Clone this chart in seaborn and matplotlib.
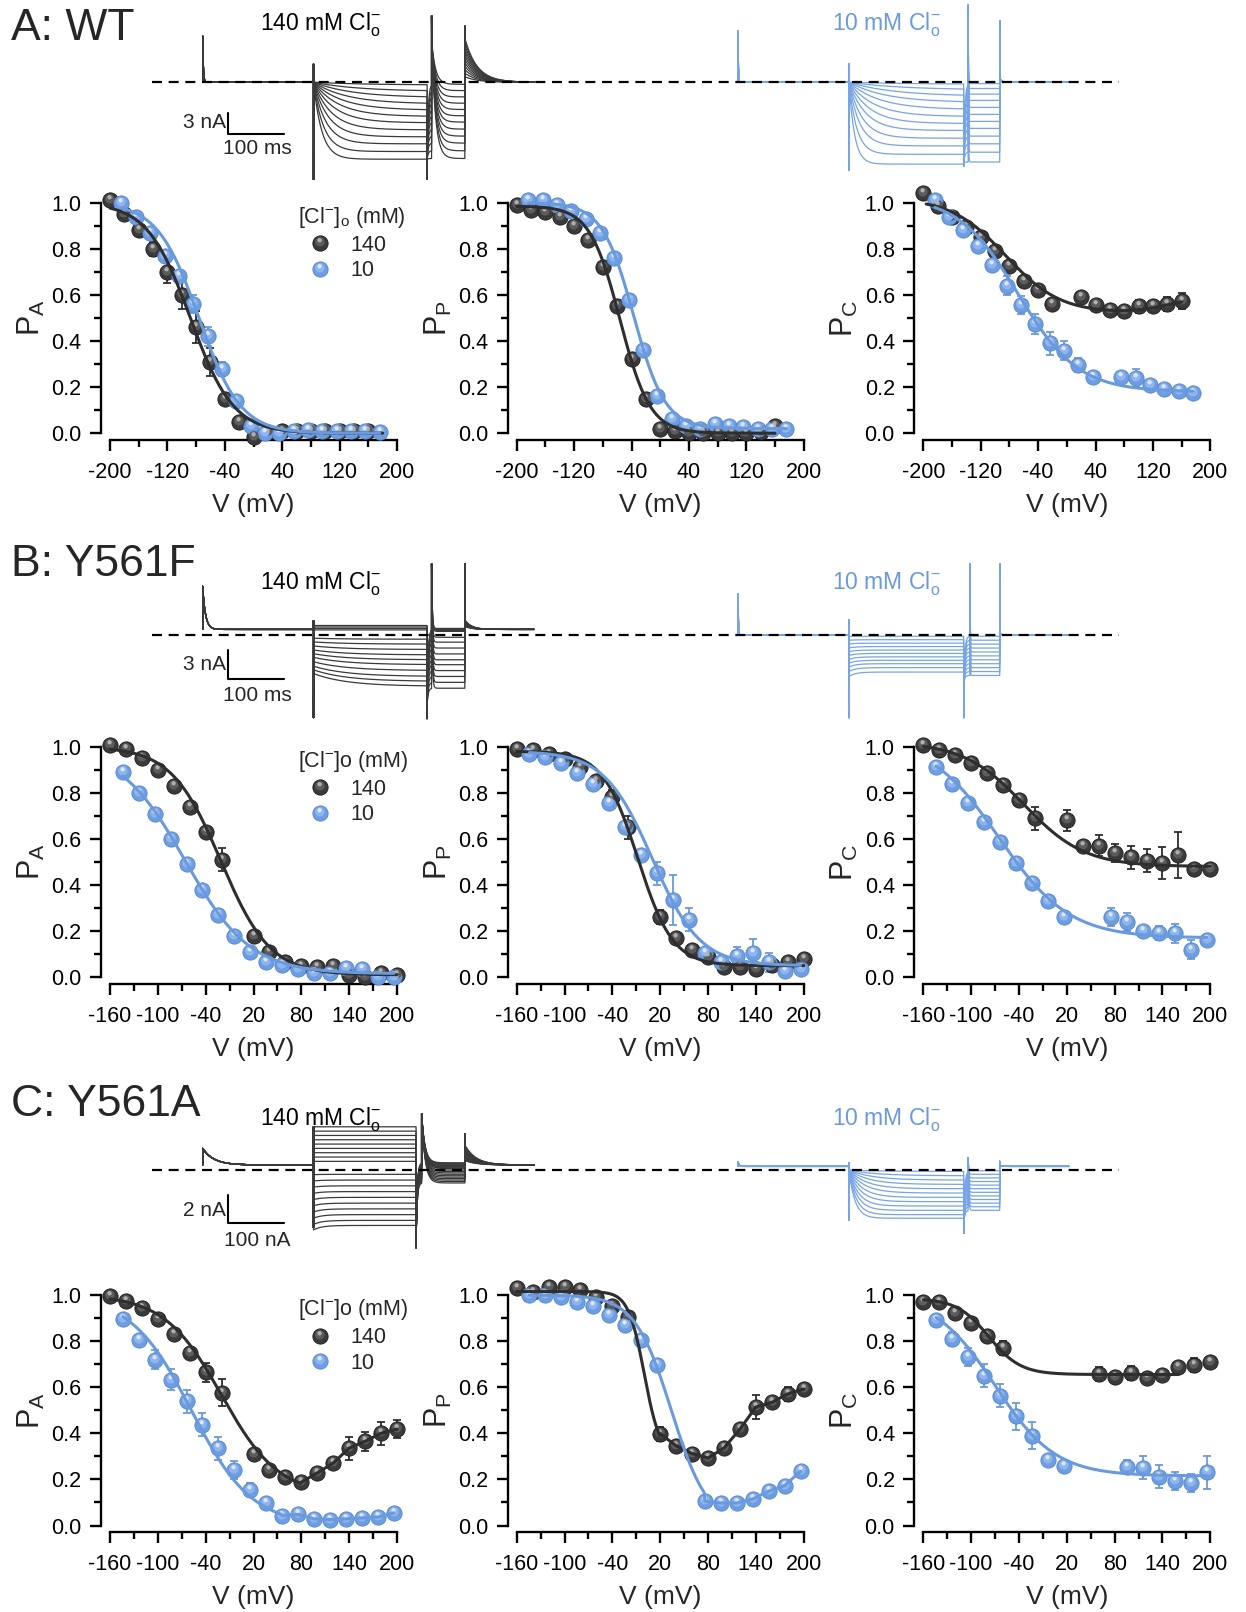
import numpy as np
import matplotlib
matplotlib.use("Agg")
import matplotlib.pyplot as plt
import seaborn as sns
from matplotlib.path import Path
from matplotlib.lines import Line2D
from matplotlib.legend_handler import HandlerTuple
from matplotlib.ticker import FixedLocator, FormatStrFormatter

sns.set_theme(style="ticks")
plt.rcParams["font.family"] = ["Liberation Sans", "DejaVu Sans"]
plt.rcParams["mathtext.fontset"] = "custom"
plt.rcParams["mathtext.rm"] = "Liberation Sans"
plt.rcParams["mathtext.it"] = "Liberation Sans:italic"
plt.rcParams["axes.unicode_minus"] = False

# ---------------- open probability data (mean, SEM) ----------------
# A: WT
a_v140 = [-200, -180, -160, -140, -120, -100, -80, -60, -40, -20, 0, 20, 40, 60, 80, 100, 120, 140, 160]
a_v10 = [-184, -164, -144, -124, -104, -84, -64, -44, -24, -4, 16, 36, 56, 76, 96, 116, 136, 156, 176]
a_pa_140 = [1.01, 0.95, 0.88, 0.80, 0.70, 0.60, 0.46, 0.31, 0.15, 0.05, -0.015, 0.005, 0.01, 0.01, 0.01, 0.01, 0.01, 0.01, 0.01]
a_pa_140_err = [0.01, 0.01, 0.01, 0.03, 0.05, 0.06, 0.07, 0.06, 0.02, 0.01, 0.01, 0.01, 0.02, 0.01, 0.01, 0.01, 0.01, 0.01, 0.02]
a_pa_10 = [1.0, 0.94, 0.87, 0.77, 0.68, 0.56, 0.42, 0.28, 0.14, 0.03, 0.0, 0.0, 0.01, 0.015, 0.01, 0.01, 0.01, 0.01, 0.005]
a_pa_10_err = [0.01, 0.01, 0.02, 0.02, 0.02, 0.04, 0.04, 0.03, 0.02, 0.01, 0.01, 0.01, 0.01, 0.01, 0.01, 0.01, 0.01, 0.01, 0.01]
a_pp_140 = [0.99, 0.97, 0.96, 0.94, 0.90, 0.84, 0.72, 0.55, 0.32, 0.15, 0.02, 0.01, 0.0, 0.0, 0.0, 0.0, 0.0, 0.005, 0.03]
a_pp_10 = [1.01, 1.01, 0.99, 0.965, 0.93, 0.87, 0.76, 0.58, 0.36, 0.16, 0.06, 0.03, 0.02, 0.04, 0.03, 0.026, 0.02, 0.02, 0.02]
a_pp_err = [0.01] * 19
a_pc_v140 = [-200, -180, -160, -140, -120, -100, -80, -60, -40, -20, 20, 40, 60, 80, 100, 120, 140, 160]
a_pc_140 = [1.04, 0.985, 0.94, 0.895, 0.85, 0.79, 0.725, 0.66, 0.62, 0.56, 0.59, 0.556, 0.535, 0.53, 0.55, 0.55, 0.56, 0.575]
a_pc_140_err = [0.01, 0.01, 0.01, 0.01, 0.01, 0.01, 0.01, 0.01, 0.01, 0.02, 0.01, 0.01, 0.01, 0.01, 0.03, 0.02, 0.03, 0.035]
a_pc_v10 = [-184, -164, -144, -124, -104, -84, -64, -44, -24, -4, 16, 36, 76, 96, 116, 136, 156, 176]
a_pc_10 = [1.01, 0.94, 0.88, 0.81, 0.73, 0.64, 0.556, 0.474, 0.39, 0.358, 0.296, 0.245, 0.245, 0.24, 0.21, 0.19, 0.185, 0.176]
a_pc_10_err = [0.01, 0.01, 0.01, 0.02, 0.02, 0.04, 0.04, 0.045, 0.05, 0.04, 0.03, 0.01, 0.01, 0.04, 0.01, 0.01, 0.01, 0.01]

# B: Y561F
b_v140 = [-160, -140, -120, -100, -80, -60, -40, -20, 20, 40, 60, 80, 100, 120, 140, 160, 180, 200]
b_v10 = [-144, -124, -104, -84, -64, -44, -24, -4, 16, 36, 56, 76, 96, 116, 136, 156, 176, 196]
b_pa_140 = [1.007, 0.99, 0.95, 0.90, 0.83, 0.74, 0.63, 0.51, 0.18, 0.11, 0.064, 0.05, 0.046, 0.05, 0.01, 0.003, 0.02, 0.01]
b_pa_140_err = [0.01, 0.01, 0.01, 0.01, 0.01, 0.01, 0.02, 0.05, 0.01, 0.01, 0.01, 0.01, 0.01, 0.01, 0.01, 0.01, 0.01, 0.01]
b_pa_10 = [0.89, 0.80, 0.71, 0.60, 0.49, 0.38, 0.27, 0.18, 0.11, 0.064, 0.053, 0.035, 0.02, 0.02, 0.04, 0.035, 0.0, 0.0]
b_pa_10_err = [0.01] * 18
b_pp_140 = [0.99, 0.986, 0.97, 0.945, 0.91, 0.85, 0.78, 0.65, 0.26, 0.17, 0.12, 0.087, 0.043, 0.046, 0.035, 0.053, 0.064, 0.078]
b_pp_140_err = [0.01, 0.01, 0.01, 0.01, 0.01, 0.01, 0.03, 0.05, 0.03, 0.01, 0.01, 0.01, 0.01, 0.01, 0.01, 0.01, 0.01, 0.01]
b_pp_10 = [0.97, 0.957, 0.928, 0.887, 0.838, 0.754, 0.65, 0.53, 0.45, 0.335, 0.25, 0.104, 0.068, 0.09, 0.107, 0.064, 0.025, 0.035]
b_pp_10_err = [0.01, 0.01, 0.01, 0.01, 0.01, 0.01, 0.02, 0.02, 0.05, 0.11, 0.05, 0.02, 0.01, 0.04, 0.06, 0.04, 0.01, 0.01]
b_pc_140 = [1.007, 0.986, 0.964, 0.928, 0.884, 0.834, 0.77, 0.69, 0.68, 0.57, 0.57, 0.54, 0.52, 0.506, 0.494, 0.53, 0.468, 0.47]
b_pc_140_err = [0.01, 0.01, 0.01, 0.01, 0.01, 0.01, 0.01, 0.05, 0.045, 0.01, 0.045, 0.04, 0.05, 0.05, 0.07, 0.1, 0.01, 0.01]
b_pc_v10 = [-144, -124, -104, -84, -64, -44, -24, -4, 16, 76, 96, 116, 136, 156, 176, 196]
b_pc_10 = [0.913, 0.838, 0.757, 0.675, 0.588, 0.497, 0.41, 0.33, 0.26, 0.26, 0.24, 0.2, 0.19, 0.19, 0.12, 0.16]
b_pc_10_err = [0.01, 0.01, 0.01, 0.01, 0.01, 0.01, 0.01, 0.01, 0.01, 0.04, 0.04, 0.01, 0.03, 0.04, 0.04, 0.01]

# C: Y561A
c_v140 = b_v140
c_v10 = b_v10
c_pa_140 = [0.996, 0.975, 0.942, 0.895, 0.83, 0.75, 0.664, 0.577, 0.312, 0.242, 0.21, 0.188, 0.228, 0.271, 0.336, 0.365, 0.40, 0.418]
c_pa_140_err = [0.01, 0.01, 0.01, 0.01, 0.01, 0.01, 0.04, 0.06, 0.01, 0.01, 0.01, 0.01, 0.01, 0.01, 0.05, 0.04, 0.05, 0.04]
c_pa_10 = [0.894, 0.805, 0.72, 0.632, 0.538, 0.437, 0.336, 0.24, 0.156, 0.098, 0.043, 0.048, 0.029, 0.026, 0.029, 0.033, 0.037, 0.055]
c_pa_10_err = [0.01, 0.01, 0.04, 0.045, 0.05, 0.05, 0.05, 0.04, 0.03, 0.01, 0.01, 0.01, 0.01, 0.01, 0.01, 0.01, 0.01, 0.01]
c_pp_140 = [1.03, 1.014, 1.033, 1.033, 1.02, 0.99, 0.952, 0.906, 0.398, 0.346, 0.312, 0.293, 0.336, 0.418, 0.514, 0.534, 0.571, 0.592]
c_pp_140_err = [0.01, 0.01, 0.01, 0.01, 0.01, 0.01, 0.01, 0.01, 0.03, 0.01, 0.01, 0.01, 0.01, 0.01, 0.05, 0.01, 0.03, 0.01]
c_pp_v10 = [-144, -124, -104, -84, -64, -44, -24, -4, 16, 76, 96, 116, 136, 156, 176, 196]
c_pp_10 = [1.0, 1.0, 0.99, 0.97, 0.952, 0.913, 0.87, 0.805, 0.697, 0.105, 0.098, 0.098, 0.115, 0.149, 0.173, 0.235]
c_pp_10_err = [0.01] * 15 + [0.02]
c_pc_v140 = [-160, -140, -120, -100, -80, -60, 60, 80, 100, 120, 140, 160, 180, 200]
c_pc_140 = [0.971, 0.971, 0.924, 0.88, 0.823, 0.77, 0.658, 0.646, 0.66, 0.64, 0.654, 0.687, 0.697, 0.711]
c_pc_140_err = [0.01, 0.01, 0.01, 0.01, 0.01, 0.03, 0.03, 0.01, 0.03, 0.01, 0.01, 0.01, 0.03, 0.01]
c_pc_v10 = [-144, -124, -104, -84, -64, -44, -24, -4, 16, 96, 116, 136, 156, 176, 196]
c_pc_10 = [0.892, 0.808, 0.73, 0.65, 0.563, 0.473, 0.39, 0.286, 0.258, 0.255, 0.25, 0.211, 0.192, 0.185, 0.23]
c_pc_10_err = [0.01, 0.03, 0.04, 0.05, 0.05, 0.06, 0.06, 0.01, 0.01, 0.03, 0.05, 0.05, 0.04, 0.04, 0.07]

# Boltzmann fit parameters: [v_start, v_end, p_max, p_min, v_half, slope, rise, rise_vh, rise_k, v_break]
a_pa_140_fit = [-200, 180, 1.0, 0.0, -88, 30, 0, 0, 1, None]
a_pa_10_fit = [-184, 176, 1.0, 0.0, -76, 29, 0, 0, 1, None]
a_pp_140_fit = [-200, 160, 0.985, 0.0, -56, 21, 0, 0, 1, None]
a_pp_10_fit = [-184, 176, 1.0, 0.02, -37, 22, 0, 0, 1, None]
a_pc_140_fit = [-196, 160, 1.02, 0.52, -85, 38, 0.07, 140, 25, None]
a_pc_10_fit = [-184, 176, 1.03, 0.18, -68, 42, 0, 0, 1, None]
b_pa_140_fit = [-160, 200, 1.0, 0.01, -21, 31, 0, 0, 1, None]
b_pa_10_fit = [-144, 196, 1.0, 0.015, -66, 41, 0, 0, 1, None]
b_pp_140_fit = [-160, 200, 0.98, 0.05, -8, 22, 0, 0, 1, None]
b_pp_10_fit = [-144, 196, 0.98, 0.05, 10, 30, 0, 0, 1, None]
b_pc_140_fit = [-160, 200, 1.02, 0.48, -34, 38, 0, 0, 1, None]
b_pc_10_fit = [-144, 196, 1.04, 0.17, -65, 44, 0, 0, 1, None]
c_pa_140_fit = [-160, 200, 1.0, 0.13, -20, 36, 0, 0, 1, 80]
c_pa_10_fit = [-144, 196, 1.0, 0.0, -58, 38, 0, 0, 1, 56]
c_pp_140_fit = [-160, 200, 1.015, 0.3, 0, 10, 0, 0, 1, 20]
c_pp_10_fit = [-144, 196, 1.0, 0.0, 34, 23, 0, 0, 1, 76]
c_pc_140_fit = [-160, 160, 0.985, 0.655, -78, 20, 0, 0, 1, None]
c_pc_10_fit = [-144, 196, 1.0, 0.215, -70, 38, 0, 0, 1, None]

# ---------------- current traces (nA, per sweep) ----------------
a140_ss = [-0.4, -1.3, -2.2, -3.1, -4.0, -4.9, -5.8, -6.8, -7.8, -8.8, -9.9, -11.0]
a140_tau = [90, 80, 70, 60, 52, 45, 38, 32, 27, 22, 18, 15]
a140_tail = [-0.3, -1.2, -2.1, -3.0, -3.9, -4.8, -5.7, -6.7, -7.7, -8.7, -9.8, -10.9]
a140_post = [0.8, 1.3, 1.8, 2.3, 2.8, 3.3, 3.8, 4.3, 4.8, 5.3, 5.8, 6.3]
a10_ss = [-0.3, -1.1, -2.0, -2.9, -3.9, -4.9, -5.9, -6.9, -8.0, -9.1, -10.3, -11.7]
a10_tau = [110, 95, 80, 66, 55, 45, 37, 30, 24, 19, 14, 10]
a10_tail = [-0.2, -0.9, -1.7, -2.6, -3.6, -4.6, -5.6, -6.6, -7.7, -8.8, -10.0, -11.4]
a10_post = [0.2, 0.25, 0.3, 0.35, 0.4, 0.45, 0.5, 0.55, 0.6, 0.65, 0.7, 0.75]
b140_ss = [1.0, 0.85, 0.7, 0.55, -0.4, -0.9, -1.45, -2.0, -2.5, -3.0, -3.6, -4.2, -4.7, -5.2]
b140_tail = [0.7, 0.6, 0.5, 0.4, -0.2, -0.7, -1.3, -1.9, -2.5, -3.0, -3.6, -4.2, -4.8, -5.4]
b140_post = [0.3, 0.35, 0.4, 0.45, 0.5, 0.55, 0.6, 0.65, 0.7, 0.75, 0.8, 0.85, 0.9, 1.0]
b10_ss = [-0.1, -0.45, -0.8, -1.15, -1.5, -1.85, -2.2, -2.55, -2.9, -3.3, -3.75]
b10_tail = [-0.1, -0.5, -0.9, -1.3, -1.7, -2.1, -2.5, -2.9, -3.3, -3.7, -4.1]
b10_post = [0.1, 0.12, 0.14, 0.16, 0.18, 0.2, 0.22, 0.24, 0.26, 0.28, 0.3]
c140_ss = [3.0, 2.7, 2.4, 2.1, 1.8, 1.5, 1.2, 0.9, 0.6, -0.3, -0.7, -1.1, -1.5, -1.9, -2.3, -2.7, -3.1, -3.5, -3.85]
c140_tail = [0.5, 0.45, 0.4, 0.35, 0.3, 0.25, 0.2, 0.15, 0.1, 0.0, -0.1, -0.2, -0.3, -0.4, -0.5, -0.6, -0.7, -0.8, -0.9]
c140_post = [0.3, 0.35, 0.4, 0.45, 0.5, 0.55, 0.6, 0.65, 0.7, 0.75, 0.8, 0.85, 0.9, 0.95, 1.0, 1.1, 1.2, 1.3, 1.4]
c10_ss = [-0.1, -0.4, -0.7, -1.0, -1.3, -1.6, -1.9, -2.2, -2.5, -2.8, -3.1, -3.35]
c10_tau = [60, 50, 42, 36, 31, 27, 23, 20, 17, 15, 13, 11]
c10_tail = [-0.05, -0.3, -0.55, -0.8, -1.05, -1.3, -1.55, -1.8, -2.05, -2.3, -2.55, -2.8]
c10_post = [0.05] * 12

BLACK = dict(base="#3a3a3a", edge="#1c1c1c", hl1="#5c5c5c", hl2="#b0b0b0", line="#2e2e2e", trace="#3a3a3a")
BLUE = dict(base="#6d9de2", edge="#5686cc", hl1="#8fb5ec", hl2="#dce8f9", line="#6a9ade", trace="#76a4e6")


def rec(t0, hold, pre_spike, pre_tau, test_dur, on, init, ss, tau, gap, off1, dip, off2, peak, tail_tau,
        tail, tail_dur, post_caps, post, post_tau):
    return dict(t0=t0, hold=hold, pre_spike=pre_spike, pre_tau=pre_tau, test_dur=test_dur, on=on, init=init,
                ss=ss, tau=np.broadcast_to(tau, len(ss)), gap=gap, off1=off1, dip=dip, off2=off2, peak=peak,
                tail_tau=tail_tau, tail=tail, tail_dur=tail_dur, post_caps=post_caps, post=post, post_tau=post_tau)


traces = [
    (rec(95, 0.0, 6.6, 1.2, 205, [2.6, -14.0], 0.0, a140_ss, a140_tau, 8, [-14.0], -11.0, [9.5], 6.0, 7,
         a140_tail, 68, [8.0], a140_post, 22),
     rec(1061, 0.0, 7.3, 0.5, 207, [2.6, -12.6], 0.0, a10_ss, a10_tau, 8, [-12.0], -11.5, [11.0], 11.0, 0.5,
         a10_tail, 65, [8.8], a10_post, 3)),
    (rec(95, 0.6, 5.0, 5, 205, [1.5, -8.4], 0.75, b140_ss, 60, 8, [-8.5], -7.0, [7.3], 7.3, 1.2,
         b140_tail, 68, [7.3], b140_post, 12),
     rec(1061, 0.05, 4.2, 0.6, 207, [1.6, -8.4], 1.12, b10_ss, 12, 11, [-8.4], -5.0, [7.3], 7.3, 0.5,
         b10_tail, 65, [7.3], b10_post, 2)),
    (rec(95, 0.35, 1.5, 20, 185, [3.0, -4.0], 1.08, c140_ss, 15, 10, [-5.4], -5.0, [3.9], 3.9, 6,
         c140_tail, 88, [2.5], c140_post, 20),
     rec(1061, 0.25, 0.55, 2, 207, [0.5, -3.5], 0.0, c10_ss, c10_tau, 8, [-4.4], -3.8, [0.85], 0.85, 1,
         c10_tail, 65, [0.6], c10_post, 3)),
]


def seg(t_start, dur, caps, start, end, tau, n=90):
    dt = dur * np.linspace(0, 1, n) ** 2
    t = np.concatenate([np.full(len(caps), t_start), t_start + dt])
    y = np.concatenate([caps, end + (start - end) * np.exp(-dt / tau)])
    return t, y


def sweep(r, i):
    ss = r["ss"][i]
    lvl = r["tail"][i]
    t1 = r["t0"] + 200
    t2 = t1 + r["test_dur"]
    t3 = t2 + r["tail_dur"]
    init = ss * r["init"] if ss < 0 else ss
    parts = [
        seg(r["t0"], 200, [r["hold"], r["pre_spike"]], r["pre_spike"], r["hold"], r["pre_tau"]),
        seg(t1, r["test_dur"], r["on"], init, ss, r["tau"][i]),
        seg(t2, r["gap"], r["off1"], r["dip"], lvl, 2.0),
        seg(t2 + r["gap"], r["tail_dur"] - r["gap"], r["off2"], r["peak"], lvl, r["tail_tau"]),
        seg(t3, 125, r["post_caps"], r["hold"] + r["post"][i], r["hold"], r["post_tau"]),
    ]
    return np.concatenate([p[0] for p in parts]), np.concatenate([p[1] for p in parts])


# ---------------- layout ----------------
W, H = 1246, 1612
fig = plt.figure(figsize=(W / 100, H / 100), dpi=100)


def px_axes(left, top, width, height):
    return fig.add_axes([left / W, 1 - (top + height) / H, width / W, height / H])


def boltz(v, pmax, pmin, vh, k, rise=0.0, rvh=0.0, rk=1.0):
    v = np.asarray(v, dtype=float)
    return pmin + (pmax - pmin) / (1 + np.exp((v - vh) / k)) + rise / (1 + np.exp(-(v - rvh) / rk))


def fit_curve(fit, v, p):
    v0, v1, pmax, pmin, vh, k, rise, rvh, rk, vb = fit
    if vb is None:
        vv = np.linspace(v0, v1, 300)
        return vv, boltz(vv, pmax, pmin, vh, k, rise, rvh, rk)
    vv = np.linspace(v0, vb, 250)[:-1]
    pp = boltz(vv, pmax, pmin, vh, k)
    v = np.asarray(v, float)
    p = np.asarray(p, float)
    m = v >= vb
    return np.concatenate([vv, v[m]]), np.concatenate([pp, p[m]])


def spot(cx, cy, r):
    frame = Path([[-1, -1], [1, 1]], [Path.MOVETO, Path.MOVETO])
    return Path.make_compound_path(frame, Path.circle((cx, cy), r))


HL1 = spot(-0.08, 0.22, 0.62)
HL2 = spot(-0.12, 0.42, 0.28)
MS = 11.0  # marker diameter in points


def draw_series(ax, v, p, err, fit, c):
    ax.errorbar(v, p, yerr=err, fmt="none", ecolor=c["line"], elinewidth=1.3, capsize=3.2,
                capthick=1.3, zorder=3, clip_on=False)
    sns.scatterplot(x=v, y=p, ax=ax, s=MS ** 2, color=c["base"], edgecolor=c["edge"], linewidth=0.6,
                    zorder=4, clip_on=False, legend=False)
    ax.scatter(v, p, s=MS ** 2, marker=HL1, color=c["hl1"], linewidths=0, zorder=4.1, clip_on=False)
    ax.scatter(v, p, s=MS ** 2, marker=HL2, color=c["hl2"], linewidths=0, zorder=4.2, clip_on=False)
    fv, fp = fit_curve(fit, v, p)
    sns.lineplot(x=fv, y=fp, ax=ax, color=c["line"], linewidth=2.2, zorder=5, sort=False,
                 estimator=None, clip_on=False)


def handle(c):
    return (Line2D([], [], ls="", marker="o", ms=MS, mfc=c["base"], mec=c["edge"], mew=0.6),
            Line2D([], [], ls="", marker=HL1, ms=MS, mfc=c["hl1"], mew=0),
            Line2D([], [], ls="", marker=HL2, ms=MS, mfc=c["hl2"], mew=0))


panels = [
    [(a_v140, a_pa_140, a_pa_140_err, a_pa_140_fit, a_v10, a_pa_10, a_pa_10_err, a_pa_10_fit),
     (a_v140, a_pp_140, a_pp_err, a_pp_140_fit, a_v10, a_pp_10, a_pp_err, a_pp_10_fit),
     (a_pc_v140, a_pc_140, a_pc_140_err, a_pc_140_fit, a_pc_v10, a_pc_10, a_pc_10_err, a_pc_10_fit)],
    [(b_v140, b_pa_140, b_pa_140_err, b_pa_140_fit, b_v10, b_pa_10, b_pa_10_err, b_pa_10_fit),
     (b_v140, b_pp_140, b_pp_140_err, b_pp_140_fit, b_v10, b_pp_10, b_pp_10_err, b_pp_10_fit),
     (b_v140, b_pc_140, b_pc_140_err, b_pc_140_fit, b_pc_v10, b_pc_10, b_pc_10_err, b_pc_10_fit)],
    [(c_v140, c_pa_140, c_pa_140_err, c_pa_140_fit, c_v10, c_pa_10, c_pa_10_err, c_pa_10_fit),
     (c_v140, c_pp_140, c_pp_140_err, c_pp_140_fit, c_pp_v10, c_pp_10, c_pp_10_err, c_pp_10_fit),
     (c_pc_v140, c_pc_140, c_pc_140_err, c_pc_140_fit, c_pc_v10, c_pc_10, c_pc_10_err, c_pc_10_fit)],
]
ylabels = ["P$_{\\mathrm{A}}$", "P$_{\\mathrm{P}}$", "P$_{\\mathrm{C}}$"]
legend_titles = ["[Cl$^{-}$]$_{\\mathrm{o}}$ (mM)", "[Cl$^{-}$]o (mM)", "[Cl$^{-}$]o (mM)"]
row_titles = ["A: WT", "B: Y561F", "C: Y561A"]
col_left = [110, 516.7, 923.3]
row_top = [202.7, 746.7, 1295.0]
xticks_major = [[-200, -120, -40, 40, 120, 200], [-160, -100, -40, 20, 80, 140, 200], [-160, -100, -40, 20, 80, 140, 200]]
xticks_minor = [[-160, -80, 0, 80, 160], [-130, -70, -10, 50, 110, 170], [-130, -70, -10, 50, 110, 170]]
xlims = [(-200, 200), (-160, 200), (-160, 200)]

# trace axes geometry: (top px, height px, baseline px, px per nA)
trace_geom = [(0, 180, 82.2, 7.0), (540, 180, 635.3, 9.8), (1075, 190, 1170.0, 14.4)]
scale_bars = [("3 nA", "100 ms", 3.0, 123, 149), ("3 nA", "100 ms", 3.0, 665, 695), ("2 nA", "100 nA", 2.0, 1211, 1241)]
scale_top = [113, 650, 1194.6]
label_y = [24.5, 584, 1120]
title_y = [28, 565, 1105]

for r in range(3):
    # ---- traces ----
    top, hgt, base, pxn = trace_geom[r]
    tax = px_axes(150, top, 970, hgt)
    tax.set_xlim(0, 1750)
    tax.set_ylim(-(top + hgt - base) / pxn, (base - top) / pxn)
    tax.axis("off")
    for recd, c in zip(traces[r], [BLACK, BLUE]):
        for i in range(len(recd["ss"])):
            t, y = sweep(recd, i)
            tax.plot(t, y, color=c["trace"], lw=0.9, zorder=2)
    tax.axhline(0, xmin=0.002, xmax=0.999, color="black", lw=1.6, ls=(0, (4.5, 3)), zorder=6)
    lab_v, lab_t, amp, yv, yt = scale_bars[r]
    y_hi = (base - scale_top[r]) / pxn
    tax.plot([141, 141, 241], [y_hi, y_hi - amp, y_hi - amp], color="black", lw=1.5, zorder=6)
    fig.text(226 / W, 1 - yv / H, lab_v, ha="right", va="center", fontsize=15)
    fig.text(257 / W, 1 - yt / H, lab_t, ha="center", va="center", fontsize=15)
    fig.text(321 / W, 1 - label_y[r] / H, "140 mM Cl$^{-}_{\\mathrm{o}}$", ha="center", va="center",
             fontsize=16.5, color="black", zorder=10)
    fig.text(886 / W, 1 - label_y[r] / H, "10 mM Cl$^{-}_{\\mathrm{o}}$", ha="center", va="center",
             fontsize=16.5, color=BLUE["line"], zorder=10)
    fig.text(11 / W, 1 - title_y[r] / H, row_titles[r], ha="left", va="center", fontsize=32)

    # ---- open probability plots ----
    for cidx in range(3):
        v1, p1, e1, f1, v2, p2, e2, f2 = panels[r][cidx]
        ax = px_axes(col_left[cidx], row_top[r], 287, 230.5)
        ax.set_xlim(*xlims[r])
        ax.set_ylim(0, 1)
        draw_series(ax, v1, p1, e1, f1, BLACK)
        draw_series(ax, v2, p2, e2, f2, BLUE)
        for s in ["top", "right"]:
            ax.spines[s].set_visible(False)
        ax.spines["left"].set_position(("outward", 6.5))
        ax.spines["bottom"].set_position(("outward", 4.7))
        ax.spines["left"].set_bounds(0, 1)
        ax.spines["bottom"].set_bounds(*xlims[r])
        for s in ["left", "bottom"]:
            ax.spines[s].set_linewidth(1.7)
            ax.spines[s].set_color("black")
        ax.xaxis.set_major_locator(FixedLocator(xticks_major[r]))
        ax.xaxis.set_minor_locator(FixedLocator(xticks_minor[r]))
        ax.yaxis.set_major_locator(FixedLocator([0, 0.2, 0.4, 0.6, 0.8, 1.0]))
        ax.yaxis.set_minor_locator(FixedLocator([0.1, 0.3, 0.5, 0.7, 0.9]))
        ax.yaxis.set_major_formatter(FormatStrFormatter("%.1f"))
        ax.tick_params(which="major", direction="out", length=8, width=1.7, labelsize=15.5, pad=8,
                       color="black", labelcolor="black")
        ax.tick_params(which="minor", direction="out", length=5, width=1.7, color="black")
        ax.tick_params(axis="y", which="major", pad=6)
        ax.set_xlabel("V (mV)", fontsize=19, labelpad=7)
        ax.set_ylabel(ylabels[cidx], fontsize=22, labelpad=3)
        ax.patch.set_alpha(0)
        if cidx == 0:
            ax.legend(handles=[handle(BLACK), handle(BLUE)], labels=["140", "10"], title=legend_titles[r],
                      handler_map={tuple: HandlerTuple(ndivide=1, pad=0)}, loc="upper left",
                      bbox_to_anchor=(0.655, 0.99), frameon=False, fontsize=15.5, title_fontsize=15.5,
                      handlelength=2.0, handletextpad=0.45, labelspacing=0.22, borderpad=0,
                      borderaxespad=0, alignment="left")

fig.savefig("out.png", dpi=100)
